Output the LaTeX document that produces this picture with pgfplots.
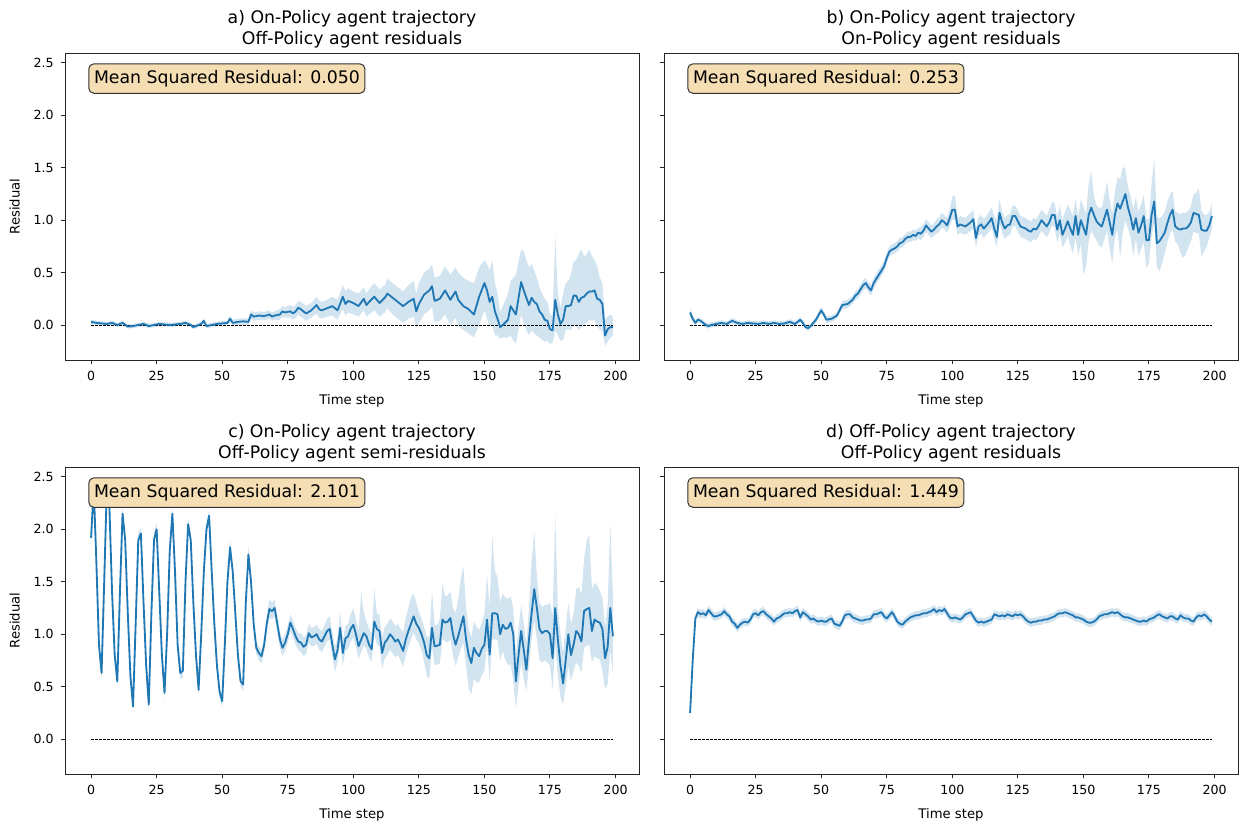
\documentclass[border=0pt]{standalone}
\usepackage{fontspec}
\setmainfont{DejaVu Sans}
\usepackage{pgfplots}
\pgfplotsset{compat=1.18}
\usepackage{pgfplotstable}
\usepgfplotslibrary{fillbetween}

\definecolor{mplblue}{HTML}{1F77B4}
\definecolor{wheat}{RGB}{245,222,179}
\newcommand\ttl{\fontsize{8.65}{10.4}\selectfont}
\newcommand\tck{\fontsize{6.3}{7.5}\selectfont}
\newcommand\lbl{\fontsize{6.6}{7.9}\selectfont}

% columns: time step, mean residual, band below (d), band above (u)
\pgfplotstableread{
t y d u
0 0.03 .02 .02
2 0.02 .02 .02
4 0.015 .02 .02
6 0.01 .02 .02
8 0.02 .02 .02
10 0.0 .02 .02
12 0.02 .02 .02
14 -0.015 .02 .02
16 -0.01 .02 .02
18 0.0 .02 .02
20 0.01 .02 .02
22 -0.01 .02 .02
24 0.0 .02 .02
26 0.01 .02 .02
28 0.005 .02 .02
30 0.0 .02 .02
32 0.005 .02 .02
34 0.01 .02 .02
36 0.02 .02 .02
38 0.0 .02 .02
39 -0.02 .02 .02
40 -0.01 .02 .02
42 0.01 .02 .02
43 0.04 .02 .02
44 -0.01 .02 .02
46 0.0 .02 .02
48 0.01 .02 .02
50 0.015 .025 .025
52 0.02 .02 .02
53 0.06 .03 .03
54 0.02 .02 .03
56 0.03 .03 .03
58 0.035 .03 .03
60 0.03 .03 .03
61 0.10 .04 .04
62 0.08 .04 .04
64 0.09 .04 .04
66 0.085 .04 .04
68 0.10 .04 .04
69 0.08 .04 .04
70 0.09 .04 .04
72 0.10 .05 .05
73 0.13 .05 .05
74 0.12 .05 .05
76 0.13 .06 .06
77 0.11 .06 .06
78 0.13 .06 .06
79 0.165 .065 .065
80 0.15 .07 .07
82 0.11 .07 .07
84 0.14 .07 .07
86 0.19 .08 .08
87 0.15 .08 .08
88 0.14 .08 .08
90 0.16 .08 .08
92 0.18 .09 .09
94 0.14 .09 .10
96 0.27 .12 .11
97 0.20 .11 .12
98 0.23 .11 .12
100 0.21 .11 .11
102 0.18 .10 .12
104 0.25 .11 .11
105 0.19 .11 .11
106 0.22 .12 .12
108 0.27 .13 .13
110 0.21 .13 .13
112 0.26 .14 .12
113 0.30 .14 .14
115 0.26 .16 .14
117 0.22 .16 .14
119 0.18 .16 .14
121 0.22 .16 .16
123 0.25 .17 .17
124 0.13 .16 .17
125 0.20 .18 .20
127 0.29 .19 .21
129 0.33 .19 .21
130 0.37 .20 .21
131 0.23 .20 .22
133 0.25 .21 .22
135 0.33 .23 .23
137 0.24 .24 .24
139 0.32 .25 .23
140 0.24 .25 .26
142 0.18 .23 .27
144 0.15 .23 .27
146 0.10 .22 .30
148 0.27 .27 .28
150 0.40 .26 .22
151 0.33 .27 .25
152 0.22 .24 .30
153 0.27 .27 .35
154 0.13 .23 .27
155 0.06 .16 .24
156 -0.02 .11 .14
157 0.0 .12 .18
159 0.05 .17 .25
160 0.18 .28 .24
161 0.14 .29 .31
162 0.10 .28 .38
164 0.41 .31 .31
165 0.33 .31 .37
166 0.26 .31 .36
167 0.19 .29 .36
168 0.26 .31 .32
169 0.22 .30 .30
170 0.20 .30 .25
171 0.13 .25 .23
172 0.10 .24 .20
173 0.05 .21 .20
174 0.04 .19 .18
175 -0.04 .14 .14
176 -0.05 .12 .13
177 0.24 .29 .60
178 0.10 .20 .20
179 0.01 .16 .16
180 0.05 .20 .25
181 0.18 .23 .22
182 0.18 .22 .24
183 0.19 .24 .29
184 0.28 .28 .32
185 0.28 .28 .34
186 0.22 .27 .46
187 0.26 .28 .46
188 0.27 .27 .38
189 0.30 .28 .38
190 0.32 .27 .40
191 0.32 .28 .34
192 0.33 .28 .29
193 0.25 .27 .31
194 0.24 .28 .21
195 0.20 .26 .20
196 -0.10 .10 .15
197 -0.04 .12 .12
198 -0.02 .10 .12
199 -0.02 .08 .10
}\dataA

\pgfplotstableread{
t y d u
0 0.12 .04 .04
1 0.06 .03 .03
2 0.02 .025 .025
3 0.05 .025 .025
4 0.04 .025 .025
5 0.02 .025 .025
6 0.0 .025 .025
7 -0.01 .025 .025
8 0.0 .025 .025
10 0.01 .025 .025
12 0.02 .025 .025
14 0.01 .025 .025
16 0.04 .025 .025
18 0.02 .025 .025
20 0.01 .025 .025
22 0.02 .025 .025
24 0.015 .025 .025
26 0.01 .025 .025
28 0.02 .025 .025
30 0.01 .025 .025
32 0.02 .025 .025
34 0.01 .025 .025
36 0.015 .025 .025
38 0.03 .025 .025
40 0.01 .025 .025
42 0.05 .025 .025
43 0.02 .025 .025
44 -0.02 .025 .025
45 -0.03 .025 .025
46 -0.01 .025 .025
47 0.02 .025 .025
48 0.05 .03 .03
50 0.14 .03 .03
51 0.10 .03 .03
52 0.05 .03 .03
54 0.06 .03 .03
56 0.09 .03 .03
57 0.14 .03 .03
58 0.19 .04 .04
60 0.20 .04 .04
61 0.22 .04 .04
62 0.24 .04 .04
63 0.28 .04 .04
64 0.30 .045 .045
65 0.34 .045 .045
66 0.38 .05 .05
67 0.40 .05 .05
68 0.36 .05 .05
69 0.33 .05 .05
70 0.40 .05 .05
71 0.44 .05 .05
72 0.48 .05 .05
73 0.52 .05 .05
74 0.56 .05 .05
75 0.64 .05 .05
76 0.70 .05 .05
77 0.72 .05 .05
78 0.73 .05 .05
79 0.75 .05 .05
80 0.78 .05 .05
81 0.79 .05 .05
82 0.82 .05 .05
83 0.84 .05 .05
84 0.84 .05 .05
85 0.86 .05 .05
86 0.85 .05 .05
87 0.88 .05 .05
88 0.87 .06 .06
89 0.90 .06 .06
90 0.95 .06 .06
91 0.92 .06 .06
92 0.89 .06 .06
93 0.91 .06 .06
94 0.94 .07 .07
95 0.96 .07 .07
96 1.00 .07 .07
97 0.98 .07 .07
98 0.95 .07 .07
99 1.02 .08 .08
100 1.10 .09 .12
101 1.10 .10 .14
102 0.94 .08 .08
103 0.96 .08 .08
104 0.95 .08 .08
105 0.94 .08 .08
106 0.96 .08 .09
107 0.98 .08 .09
108 1.01 .09 .09
109 0.83 .09 .09
110 0.94 .09 .09
111 0.96 .09 .09
112 0.92 .09 .09
113 0.95 .09 .09
114 0.98 .09 .10
115 1.02 .09 .10
116 0.92 .10 .12
117 0.84 .10 .16
118 1.07 .10 .13
119 0.98 .10 .10
120 0.92 .10 .10
121 0.95 .10 .10
122 0.96 .10 .10
123 1.04 .10 .10
124 1.04 .10 .10
125 0.99 .10 .10
126 0.94 .10 .10
127 0.93 .10 .10
128 0.92 .10 .10
129 0.90 .10 .10
130 0.89 .10 .10
131 0.92 .10 .10
132 0.91 .10 .10
133 0.95 .10 .10
134 1.00 .10 .10
135 0.97 .10 .10
136 0.94 .10 .10
137 0.98 .10 .12
138 1.05 .10 .12
139 1.05 .12 .12
140 0.91 .12 .12
141 1.00 .12 .14
142 0.86 .12 .14
143 0.92 .14 .16
144 0.99 .14 .16
145 0.92 .16 .18
146 0.86 .18 .18
147 1.04 .20 .16
148 0.86 .20 .18
149 1.00 .22 .20
150 0.93 .45 .20
151 0.86 .30 .20
152 1.05 .25 .30
153 1.12 .22 .35
154 1.05 .20 .18
155 0.99 .18 .15
156 0.96 .20 .16
157 0.94 .20 .18
158 1.02 .20 .22
159 1.10 .20 .27
160 0.98 .25 .22
161 0.86 .27 .20
162 1.05 .22 .22
163 1.16 .25 .25
164 1.11 .47 .28
165 1.18 .30 .33
166 1.25 .25 .24
167 1.12 .20 .20
168 1.03 .20 .20
169 0.91 .25 .20
170 1.02 .20 .20
171 0.88 .22 .20
172 0.95 .22 .20
173 1.04 .25 .20
174 0.81 .27 .20
175 0.81 .22 .20
176 1.05 .20 .30
177 1.18 .20 .41
178 0.78 .22 .25
179 0.80 .29 .22
180 0.84 .25 .20
181 0.88 .20 .20
182 0.97 .18 .20
183 1.05 .18 .20
184 1.10 .18 .18
185 0.94 .15 .15
186 0.92 .15 .15
187 0.91 .22 .15
188 0.92 .28 .15
189 0.92 .25 .15
190 0.94 .20 .15
191 0.98 .18 .15
192 1.07 .18 .18
193 1.06 .18 .20
194 1.05 .18 .26
195 0.91 .25 .18
196 0.90 .20 .15
197 0.90 .15 .15
198 0.95 .12 .13
199 1.04 .12 .12
}\dataB

\pgfplotstableread{
t y d u
0 1.92 .07 .07
1 2.40 .05 .05
2 1.70 .05 .05
3 0.90 .05 .05
4 0.63 .06 .05
5 1.50 .05 .05
6 2.40 .05 .05
7 2.20 .05 .05
8 1.40 .05 .05
9 0.80 .05 .05
10 0.55 .06 .05
11 1.40 .05 .05
12 2.15 .05 .06
13 1.90 .05 .05
14 1.20 .05 .05
15 0.60 .05 .05
16 0.31 .06 .05
17 1.10 .05 .05
18 1.90 .05 .07
19 1.96 .05 .06
20 1.30 .05 .05
21 0.70 .05 .05
22 0.33 .06 .05
23 1.20 .05 .05
24 1.90 .05 .07
25 2.00 .05 .06
26 1.40 .05 .05
27 0.80 .05 .05
28 0.44 .06 .05
29 1.00 .05 .05
30 1.80 .05 .05
31 2.15 .05 .06
32 1.60 .05 .05
33 0.90 .05 .05
34 0.63 .06 .05
35 0.65 .06 .05
36 1.50 .05 .05
37 2.05 .05 .06
38 1.90 .05 .05
39 1.30 .05 .05
40 0.80 .05 .05
41 0.47 .06 .05
42 1.00 .05 .05
43 1.60 .05 .05
44 2.00 .05 .05
45 2.13 .05 .06
46 1.60 .05 .05
47 1.10 .05 .05
48 0.70 .05 .05
49 0.45 .05 .05
50 0.36 .06 .05
51 0.90 .05 .05
52 1.50 .05 .05
53 1.83 .05 .08
54 1.60 .05 .05
55 1.20 .05 .05
56 0.80 .05 .05
57 0.55 .05 .05
58 0.52 .07 .05
59 1.30 .05 .05
60 1.76 .05 .08
61 1.50 .05 .05
62 1.10 .06 .06
63 0.87 .06 .06
64 0.82 .07 .06
65 0.79 .07 .06
66 0.90 .07 .07
67 1.10 .08 .08
68 1.24 .08 .09
69 1.22 .08 .08
70 1.25 .08 .08
71 1.10 .08 .08
72 0.95 .08 .08
73 0.87 .08 .08
74 0.92 .08 .08
75 1.00 .08 .08
76 1.11 .08 .08
77 1.05 .08 .08
78 0.98 .08 .08
79 0.93 .08 .08
80 0.92 .09 .09
81 0.88 .09 .09
82 0.90 .09 .09
83 1.01 .09 .09
84 0.97 .09 .09
85 0.98 .09 .09
86 1.00 .09 .09
87 0.95 .10 .10
88 0.93 .10 .10
89 0.98 .10 .10
90 1.03 .10 .12
91 1.05 .10 .12
92 0.90 .12 .12
93 0.76 .12 .12
94 0.85 .12 .12
95 1.06 .12 .15
96 0.82 .12 .12
97 0.96 .12 .12
98 0.98 .12 .12
99 1.05 .12 .14
100 1.09 .12 .16
101 1.00 .12 .14
102 0.885 .12 .14
103 0.95 .12 .45
104 1.01 .12 .20
105 0.98 .12 .15
106 0.90 .12 .15
107 0.855 .12 .15
108 1.12 .12 .31
109 1.05 .15 .15
110 1.03 .15 .15
111 0.82 .15 .15
112 0.92 .15 .15
113 0.95 .15 .15
114 1.00 .15 .15
115 0.97 .15 .15
116 0.93 .15 .15
117 0.95 .15 .15
118 0.90 .15 .15
119 0.84 .15 .18
120 0.95 .15 .20
121 1.03 .15 .22
122 1.10 .15 .25
123 1.17 .15 .22
124 1.10 .15 .20
125 1.06 .15 .15
126 1.00 .15 .15
127 0.92 .18 .15
128 0.80 .20 .18
129 0.77 .20 .20
130 1.06 .18 .36
131 0.885 .18 .20
132 0.89 .18 .20
133 0.90 .18 .25
134 1.14 .18 .34
135 1.11 .18 .25
136 1.12 .20 .25
137 1.155 .20 .25
138 1.00 .20 .25
139 0.90 .20 .30
140 0.98 .20 .35
141 1.08 .22 .45
142 1.17 .25 .48
143 0.95 .25 .30
144 0.80 .32 .25
145 0.725 .30 .25
146 0.87 .30 .25
147 0.82 .28 .25
148 0.79 .25 .25
149 0.86 .25 .25
150 0.90 .25 .30
151 1.14 .25 .43
152 0.805 .25 .45
153 1.20 .25 .74
154 1.20 .25 .40
155 1.19 .25 .35
156 1.00 .25 .30
157 1.09 .25 .30
158 1.05 .30 .30
159 1.06 .35 .28
160 1.11 .40 .25
161 1.00 .45 .25
162 0.55 .26 .25
163 0.80 .30 .25
164 1.03 .30 .25
165 0.85 .28 .25
166 0.66 .20 .25
167 0.95 .25 .30
168 1.20 .25 .50
169 1.43 .30 .56
170 1.25 .30 .30
171 1.05 .30 .25
172 1.01 .28 .25
173 1.03 .28 .25
174 1.03 .30 .25
175 1.00 .30 .30
176 0.77 .30 .40
177 1.25 .35 .90
178 0.95 .35 .30
179 0.70 .30 .30
180 0.53 .20 .30
181 0.75 .25 .30
182 1.00 .30 .30
183 0.80 .25 .30
184 0.90 .25 .30
185 1.03 .30 .40
186 1.00 .30 .45
187 0.93 .30 .45
188 1.22 .35 .50
189 1.24 .35 .65
190 1.25 .35 .70
191 1.03 .30 .40
192 1.14 .35 .35
193 1.12 .35 .35
194 1.11 .35 .30
195 1.05 .40 .30
196 0.77 .30 .30
197 0.88 .35 .40
198 1.25 .40 .80
199 0.98 .35 .40
}\dataC

\pgfplotstableread{
t y d u
0 0.25 .03 .03
1 0.75 .04 .04
2 1.15 .04 .04
3 1.21 .04 .04
4 1.19 .04 .04
5 1.20 .04 .04
6 1.18 .04 .04
7 1.23 .04 .04
8 1.20 .04 .04
9 1.17 .04 .04
10 1.17 .04 .04
11 1.18 .04 .04
12 1.19 .04 .04
13 1.22 .04 .04
14 1.19 .04 .04
15 1.17 .04 .04
16 1.12 .04 .04
17 1.10 .04 .04
18 1.06 .04 .04
19 1.09 .04 .04
20 1.11 .04 .04
21 1.12 .04 .04
22 1.11 .04 .04
23 1.14 .04 .04
24 1.19 .04 .04
25 1.20 .04 .04
26 1.18 .04 .04
27 1.21 .04 .04
28 1.22 .04 .04
29 1.19 .04 .04
30 1.17 .04 .04
31 1.15 .04 .04
32 1.12 .04 .04
33 1.15 .04 .04
34 1.16 .04 .04
35 1.18 .04 .04
36 1.20 .04 .04
37 1.20 .04 .04
38 1.21 .04 .04
39 1.20 .04 .04
40 1.22 .04 .04
41 1.23 .04 .04
42 1.16 .04 .04
43 1.21 .04 .04
44 1.19 .04 .04
45 1.17 .04 .04
46 1.14 .04 .04
47 1.15 .04 .04
48 1.13 .04 .04
49 1.12 .04 .04
50 1.13 .04 .04
51 1.12 .04 .04
52 1.12 .04 .04
53 1.14 .04 .04
54 1.15 .04 .04
55 1.10 .04 .04
56 1.09 .04 .04
57 1.08 .04 .04
58 1.12 .04 .04
59 1.18 .04 .04
60 1.19 .04 .04
61 1.19 .04 .04
62 1.16 .04 .04
63 1.15 .04 .04
64 1.14 .04 .04
65 1.13 .04 .04
66 1.13 .04 .04
67 1.14 .04 .04
68 1.14 .04 .04
69 1.15 .04 .04
70 1.19 .04 .04
71 1.19 .04 .04
72 1.20 .04 .04
73 1.21 .04 .04
74 1.17 .04 .04
75 1.15 .04 .04
76 1.18 .04 .04
77 1.21 .04 .04
78 1.17 .04 .04
79 1.12 .04 .04
80 1.10 .04 .04
81 1.09 .04 .04
82 1.12 .04 .04
83 1.14 .04 .04
84 1.16 .04 .04
85 1.17 .04 .04
86 1.18 .04 .04
87 1.18 .04 .04
88 1.19 .04 .04
89 1.20 .04 .04
90 1.20 .04 .04
91 1.21 .04 .04
92 1.22 .04 .04
93 1.24 .04 .04
94 1.21 .04 .04
95 1.23 .04 .04
96 1.22 .04 .04
97 1.24 .04 .04
98 1.20 .04 .04
99 1.16 .04 .04
100 1.15 .04 .04
101 1.16 .04 .04
102 1.15 .04 .04
103 1.14 .04 .04
104 1.16 .04 .04
105 1.19 .04 .04
106 1.20 .04 .04
107 1.21 .04 .04
108 1.17 .04 .04
109 1.13 .04 .04
110 1.11 .04 .04
111 1.12 .04 .04
112 1.11 .04 .04
113 1.12 .04 .04
114 1.13 .04 .04
115 1.14 .04 .04
116 1.19 .04 .04
117 1.18 .04 .04
118 1.17 .04 .04
119 1.18 .04 .04
120 1.17 .04 .04
121 1.19 .04 .04
122 1.18 .04 .04
123 1.17 .04 .04
124 1.19 .04 .04
125 1.18 .04 .04
126 1.19 .04 .04
127 1.17 .04 .04
128 1.14 .04 .04
129 1.12 .04 .04
130 1.11 .04 .04
131 1.12 .04 .04
132 1.12 .04 .04
133 1.13 .04 .04
134 1.13 .04 .04
135 1.14 .04 .04
136 1.14 .04 .04
137 1.15 .04 .04
138 1.16 .04 .04
139 1.17 .04 .04
140 1.19 .04 .04
141 1.20 .04 .04
142 1.20 .04 .04
143 1.21 .04 .04
144 1.20 .04 .04
145 1.19 .04 .04
146 1.18 .04 .04
147 1.16 .04 .04
148 1.16 .04 .04
149 1.15 .04 .04
150 1.14 .04 .04
151 1.12 .04 .04
152 1.11 .04 .04
153 1.11 .04 .04
154 1.12 .04 .04
155 1.14 .04 .04
156 1.17 .04 .04
157 1.18 .04 .04
158 1.19 .04 .04
159 1.19 .04 .04
160 1.20 .04 .04
161 1.21 .04 .04
162 1.20 .04 .04
163 1.21 .04 .04
164 1.19 .04 .04
165 1.17 .04 .04
166 1.16 .04 .04
167 1.16 .04 .04
168 1.15 .04 .04
169 1.14 .04 .04
170 1.13 .04 .04
171 1.12 .04 .04
172 1.12 .04 .04
173 1.13 .04 .04
174 1.12 .04 .04
175 1.14 .04 .04
176 1.15 .04 .04
177 1.16 .04 .04
178 1.18 .04 .04
179 1.19 .04 .04
180 1.17 .04 .04
181 1.16 .04 .04
182 1.15 .04 .04
183 1.17 .04 .04
184 1.17 .04 .04
185 1.15 .04 .04
186 1.14 .04 .04
187 1.18 .04 .04
188 1.16 .04 .04
189 1.15 .04 .04
190 1.15 .04 .04
191 1.13 .04 .04
192 1.12 .04 .04
193 1.16 .04 .04
194 1.18 .04 .04
195 1.17 .04 .04
196 1.19 .04 .04
197 1.17 .04 .04
198 1.14 .04 .04
199 1.12 .04 .04
}\dataD

\pgfplotsset{
  panel/.style={
    width=287pt, height=153.5pt, scale only axis,
    anchor=north west,
    xmin=-9.95, xmax=208.95, ymin=-0.334, ymax=2.595,
    xtick={0,25,...,200}, ytick={0,0.5,...,2.5},
    xtick pos=lower, ytick pos=left,
    tick align=outside, major tick length=2.15pt,
    axis line style={black!85, line width=0.5pt},
    every tick/.style={black!85, line width=0.5pt},
    tick label style={font=\tck},
    /pgf/number format/assume math mode=true,
    yticklabel style={/pgf/number format/.cd, fixed, fixed zerofill, precision=1},
    xlabel={Time step},
    label style={font=\lbl},
    title style={at={(0.5,1)}, anchor=south, yshift=-3.5pt, inner sep=0pt,
      align=center, font=\ttl},
    no markers,
  },
}
\tikzset{
  msr/.style={anchor=north west, xshift=-2.7pt, yshift=2.5pt,
    fill=wheat, draw=black!80, line width=0.5pt, rounded corners=2.5pt,
    inner xsep=2.6pt, inner ysep=0pt, minimum height=14.7pt, font=\ttl},
}

\newcommand\drawpanel[1]{%
  \addplot[name path=up, draw=none, forget plot] table[x=t, y expr=\thisrow{y}+\thisrow{u}]{#1};
  \addplot[name path=dn, draw=none, forget plot] table[x=t, y expr=\thisrow{y}-\thisrow{d}]{#1};
  \addplot[fill=mplblue, fill opacity=0.2, draw=none] fill between[of=up and dn];
  \addplot[black, line width=0.4pt, dash pattern=on 1.3pt off 0.7pt] coordinates {(0,0) (199,0)};
  \addplot[mplblue, line width=0.92pt, line join=round] table[x=t, y=y]{#1};
}

\begin{document}
\begin{tikzpicture}
\path (0pt,0pt) rectangle (619.5pt,-410.5pt);

\begin{axis}[panel, at={(32.5pt,-26.5pt)}, ylabel={Residual},
  title={a) On-Policy agent trajectory\\ Off-Policy agent residuals}]
\drawpanel{\dataA}
\node[msr] at (rel axis cs:0.05,0.95) {Mean Squared Residual: 0.050};
\end{axis}

\begin{axis}[panel, at={(332pt,-26.5pt)}, yticklabels={},
  title={b) On-Policy agent trajectory\\ On-Policy agent residuals}]
\drawpanel{\dataB}
\node[msr] at (rel axis cs:0.05,0.95) {Mean Squared Residual: 0.253};
\end{axis}

\begin{axis}[panel, at={(32.5pt,-233.5pt)}, ylabel={Residual},
  title={c) On-Policy agent trajectory\\ Off-Policy agent semi-residuals}]
\drawpanel{\dataC}
\node[msr] at (rel axis cs:0.05,0.95) {Mean Squared Residual: 2.101};
\end{axis}

\begin{axis}[panel, at={(332pt,-233.5pt)}, yticklabels={},
  title={d) Off-Policy agent trajectory\\ Off-Policy agent residuals}]
\drawpanel{\dataD}
\node[msr] at (rel axis cs:0.05,0.95) {Mean Squared Residual: 1.449};
\end{axis}
\end{tikzpicture}
\end{document}
